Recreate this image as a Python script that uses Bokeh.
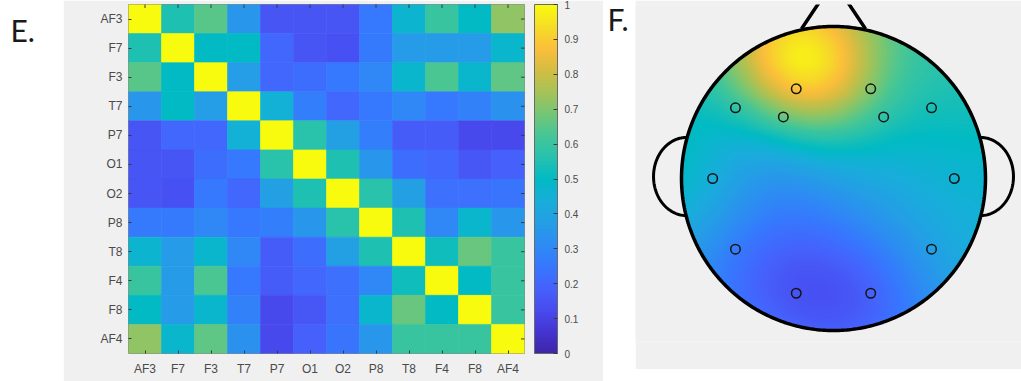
import numpy as np
from bokeh.plotting import figure
from bokeh.models import (ColumnDataSource, FactorRange, Range1d, LinearColorMapper,
                          ColorBar, FixedTicker, Label)
from bokeh.transform import transform, dodge
from bokeh.layouts import row
from bokeh.embed import file_html
from bokeh.resources import INLINE

# ---------------------------------------------------------------- data
channels = ["AF3", "F7", "F3", "T7", "P7", "O1", "O2", "P8", "T8", "F4", "F8", "AF4"]

# channel-by-channel connectivity matrix (rows/cols follow `channels`)
coherence = [
    [1.00, 0.55, 0.65, 0.35, 0.15, 0.15, 0.15, 0.25, 0.47, 0.60, 0.50, 0.72],  # AF3
    [0.55, 1.00, 0.50, 0.50, 0.20, 0.15, 0.14, 0.26, 0.36, 0.36, 0.36, 0.48],  # F7
    [0.65, 0.50, 1.00, 0.37, 0.20, 0.22, 0.25, 0.30, 0.48, 0.63, 0.48, 0.66],  # F3
    [0.35, 0.50, 0.37, 1.00, 0.45, 0.27, 0.20, 0.25, 0.30, 0.25, 0.28, 0.33],  # T7
    [0.15, 0.20, 0.20, 0.45, 1.00, 0.57, 0.38, 0.27, 0.17, 0.17, 0.12, 0.12],  # P7
    [0.15, 0.15, 0.22, 0.25, 0.57, 1.00, 0.55, 0.35, 0.22, 0.20, 0.16, 0.18],  # O1
    [0.15, 0.14, 0.25, 0.20, 0.38, 0.55, 1.00, 0.57, 0.38, 0.23, 0.23, 0.24],  # O2
    [0.26, 0.26, 0.30, 0.25, 0.27, 0.35, 0.57, 1.00, 0.55, 0.30, 0.48, 0.35],  # P8
    [0.47, 0.36, 0.48, 0.30, 0.17, 0.22, 0.38, 0.55, 1.00, 0.52, 0.67, 0.60],  # T8
    [0.60, 0.36, 0.63, 0.25, 0.17, 0.20, 0.23, 0.30, 0.52, 1.00, 0.50, 0.60],  # F4
    [0.50, 0.36, 0.48, 0.28, 0.12, 0.16, 0.23, 0.48, 0.67, 0.50, 1.00, 0.60],  # F8
    [0.72, 0.48, 0.66, 0.33, 0.12, 0.18, 0.24, 0.35, 0.60, 0.60, 0.60, 1.00],  # AF4
]

# scalp-map value of each channel
topo_values = [0.92, 0.58, 0.64, 0.44, 0.26, 0.14, 0.18, 0.38, 0.46, 0.58, 0.54, 0.70]

# 2-D montage (unit head radius, nose up)
elec_x = [-0.245, -0.645, -0.330, -0.795, -0.645, -0.245, 0.245, 0.645, 0.795, 0.330, 0.645, 0.245]
elec_y = [0.590, 0.465, 0.405, 0.000, -0.465, -0.755, -0.755, -0.465, 0.000, 0.405, 0.465, 0.590]

cbar_ticks = [0.0, 0.1, 0.2, 0.3, 0.4, 0.5, 0.6, 0.7, 0.8, 0.9, 1.0]
cbar_labels = ["0", "0.1", "0.2", "0.3", "0.4", "0.5", "0.6", "0.7", "0.8", "0.9", "1"]

# ---------------------------------------------------------------- parula colormap
PARULA_KNOTS = [
    (0.000, 0.2422, 0.1504, 0.6603),
    (0.0625, 0.2691, 0.2094, 0.8249),
    (0.125, 0.2813, 0.2985, 0.9397),
    (0.1875, 0.2710, 0.3860, 0.9898),
    (0.250, 0.2128, 0.4682, 0.9948),
    (0.3125, 0.1764, 0.5504, 0.9516),
    (0.375, 0.1408, 0.6226, 0.8998),
    (0.4375, 0.0914, 0.6828, 0.8562),
    (0.500, 0.0046, 0.7301, 0.7688),
    (0.5625, 0.1500, 0.7580, 0.6800),
    (0.625, 0.2700, 0.7750, 0.5900),
    (0.6875, 0.4600, 0.7780, 0.4600),
    (0.750, 0.6500, 0.7620, 0.3400),
    (0.8125, 0.8300, 0.7400, 0.2600),
    (0.875, 0.9850, 0.7450, 0.2300),
    (0.9375, 0.9650, 0.8650, 0.1500),
    (1.000, 0.9763, 0.9831, 0.0538),
]


def parula_rgb(n=256):
    k = np.array(PARULA_KNOTS)
    t = np.linspace(0, 1, n)
    return np.stack([np.interp(t, k[:, 0], k[:, c]) for c in (1, 2, 3)], axis=1)


PAL_RGB = parula_rgb(256)
PALETTE = ["#%02x%02x%02x" % tuple(int(round(c * 255)) for c in rgb) for rgb in PAL_RGB]

GRAY_BG = "#f0f0f0"
TICK_FONT = "Liberation Sans"
TICK_COLOR = "#4a4a4a"
TICK_LINE = "#3a3a3a"

# every panel in the row shares the same top/bottom borders
BORDER_TOP, BORDER_BOTTOM = 4, 28
PAGE_H = 381
LETTER_SHIFT = 14      # Label anchor sits this far above the drawn glyph baseline


# ---------------------------------------------------------------- panel letters
def letter_panel(width, letter, lx, baseline_from_top):
    frame_h = PAGE_H - BORDER_TOP - BORDER_BOTTOM
    f = figure(width=width, height=PAGE_H, output_backend="svg", toolbar_location=None,
               x_range=Range1d(0, width), y_range=Range1d(0, frame_h),
               min_border_left=0, min_border_right=0,
               min_border_top=BORDER_TOP, min_border_bottom=BORDER_BOTTOM,
               outline_line_color=None)
    f.axis.visible = False
    f.grid.visible = False
    f.background_fill_color = "white"
    f.border_fill_color = "white"
    yb = PAGE_H - BORDER_BOTTOM - (baseline_from_top - LETTER_SHIFT)
    # transparent guide keeps the panel's ranges driven by a renderer
    f.line([0, width], [yb, yb], line_alpha=0)
    f.add_layout(Label(x=lx, y=yb, text=letter,
                       text_font="Lato", text_font_size="30px", text_color="#1a1a1a",
                       text_baseline="alphabetic", text_align="left"))
    return f


fig_e = letter_panel(63, "E.", 10, 43)
fig_f = letter_panel(32, "F.", 4, 32)

# ---------------------------------------------------------------- connectivity matrix
cells = ColumnDataSource(dict(
    col=[c for _ in channels for c in channels],
    row=[r for r in channels for _ in channels],
    val=[v for r in coherence for v in r],
))

mapper = LinearColorMapper(palette=PALETTE, low=0, high=1)

hm = figure(width=540, height=PAGE_H, output_backend="svg", toolbar_location=None,
            x_range=FactorRange(*channels), y_range=FactorRange(*channels[::-1]),
            min_border_left=65, min_border_right=79,
            min_border_top=BORDER_TOP, min_border_bottom=BORDER_BOTTOM)
hm.x_range.range_padding = 0
hm.y_range.range_padding = 0
hm.rect(x="col", y="row", width=1, height=1, source=cells,
        fill_color=transform("val", mapper), line_color=transform("val", mapper), line_width=0.6)

# small inward tick marks on the top and right edges of the box
edge = ColumnDataSource(dict(ch=channels, top=[channels[0]] * 12, right=[channels[-1]] * 12))
hm.scatter(x="ch", y=dodge("top", 0.5, range=hm.y_range), source=edge, marker="dash",
           angle=np.pi / 2, size=7, line_color=TICK_LINE, line_width=1)
hm.scatter(x=dodge("right", 0.5, range=hm.x_range), y="ch", source=edge, marker="dash",
           size=7, line_color=TICK_LINE, line_width=1)

hm.background_fill_color = GRAY_BG
hm.border_fill_color = GRAY_BG
hm.outline_line_color = "#8a8a8a"
hm.grid.visible = False
for ax in hm.axis:
    ax.axis_line_color = None
    ax.major_tick_in = 3
    ax.major_tick_out = 0
    ax.major_tick_line_color = TICK_LINE
    ax.major_label_text_font = TICK_FONT
    ax.major_label_text_font_size = "12px"
    ax.major_label_text_color = TICK_COLOR
hm.xaxis.major_label_standoff = 8
hm.yaxis.major_label_standoff = 6

cbar = ColorBar(color_mapper=mapper, ticker=FixedTicker(ticks=cbar_ticks),
                major_label_overrides={t: s for t, s in zip(cbar_ticks, cbar_labels)},
                width=23, height=349, padding=0, margin=0, location=(10, 0),
                bar_line_color="#6a6a6a", major_tick_in=4, major_tick_out=0,
                major_tick_line_color=TICK_LINE, label_standoff=7,
                major_label_text_font=TICK_FONT, major_label_text_font_size="10px",
                major_label_text_color=TICK_COLOR, background_fill_alpha=0)
hm.add_layout(cbar, "right")


# ---------------------------------------------------------------- scalp map
def rbf_surface(xe, ye, ve, xq, yq, sigma=0.40, ridge=0.04, slope=0.08):
    """Gaussian radial-basis interpolation on top of a gentle front-to-back trend."""
    pe = np.column_stack([xe, ye])
    ve = np.asarray(ve, dtype=float)
    c0 = np.mean(ve - slope * pe[:, 1])
    d2 = ((pe[:, None, :] - pe[None, :, :]) ** 2).sum(-1)
    k = np.exp(-d2 / (2 * sigma ** 2)) + ridge * np.eye(len(ve))
    w = np.linalg.solve(k, ve - (c0 + slope * pe[:, 1]))
    dq2 = (xq[..., None] - pe[:, 0]) ** 2 + (yq[..., None] - pe[:, 1]) ** 2
    return c0 + slope * yq + np.exp(-dq2 / (2 * sigma ** 2)) @ w


GRID = 320
EXT = 1.02
gx = np.linspace(-EXT, EXT, GRID)
GX, GY = np.meshgrid(gx, gx)
surf = rbf_surface(elec_x, elec_y, topo_values, GX, GY)
idx = np.clip(np.round(np.clip(surf, 0, 1) * 255), 0, 255).astype(int)
rgb = (PAL_RGB[idx] * 255).round().astype(np.uint32)
alpha = np.where(GX ** 2 + GY ** 2 <= 1.0, 255, 0).astype(np.uint32)
rgba = (alpha << 24) | (rgb[..., 2] << 16) | (rgb[..., 1] << 8) | rgb[..., 0]

SCALE = 152.0          # pixels per head radius
HEAD_H = 369
frame_top, frame_bottom = BORDER_TOP, HEAD_H - BORDER_BOTTOM
cx_px, cy_px = 198.0, 178.0
head = figure(width=386, height=HEAD_H, output_backend="svg", toolbar_location=None,
              x_range=Range1d(-cx_px / SCALE, (386 - cx_px) / SCALE),
              y_range=Range1d(-(frame_bottom - cy_px) / SCALE, (cy_px - frame_top) / SCALE),
              min_border_left=0, min_border_right=0,
              min_border_top=BORDER_TOP, min_border_bottom=BORDER_BOTTOM,
              outline_line_color=None)
head.axis.visible = False
head.grid.visible = False
head.background_fill_color = GRAY_BG
head.border_fill_color = GRAY_BG

theta = np.linspace(0, 2 * np.pi, 361)
half = np.linspace(0.5 * np.pi, 1.5 * np.pi, 121)
ear_cx, ear_cy, ear_a, ear_b = 0.967, 0.013, 0.217, 0.257
for s in (-1, 1):
    head.line(s * (ear_cx + ear_a * np.abs(np.cos(half))), ear_cy + ear_b * np.sin(half),
              line_color="black", line_width=3)

head.image_rgba(image=[rgba], x=-EXT, y=-EXT, dw=2 * EXT, dh=2 * EXT)
head.line(np.cos(theta), np.sin(theta), line_color="black", line_width=3.5)
head.line([-0.21, 0.0, 0.21], [0.985, 1.30, 0.985], line_color="black", line_width=3.5)
head.scatter(elec_x, elec_y, size=9.5, fill_color=None, line_color="#141414", line_width=1.5)

layout = row(fig_e, hm, fig_f, head, spacing=0)
open("out.html", "w").write(file_html(layout, INLINE))
